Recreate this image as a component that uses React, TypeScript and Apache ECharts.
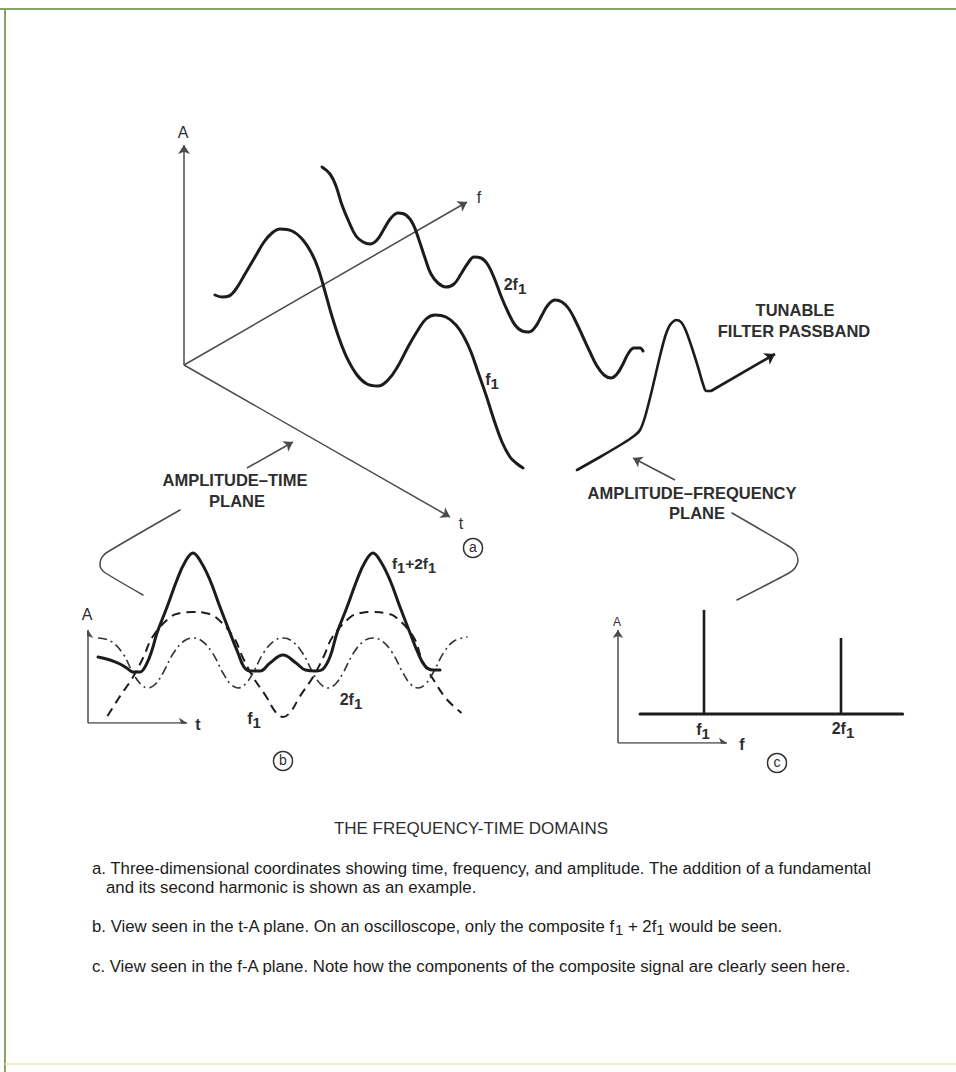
import React, { useEffect, useRef } from "react";
import * as echarts from "echarts";

// ---------- Panel (a): three-dimensional view (values in drawing units of the sketch plane) ----------
const axisAmplitudeA = [[184, 365], [184, 145]];
const axisFrequencyA = [[184, 365], [467, 202]];
const axisTimeA = [[184, 365], [450, 517]];

const curveF1A = [
  [215, 295], [222, 297], [229, 296], [236, 289], [245, 274], [255, 257], [264, 242], [272, 233],
  [280, 229], [292, 231], [303, 240], [312, 254], [318, 268], [324, 288], [331, 313], [339, 338],
  [347, 358], [357, 375], [367, 384], [378, 386], [388, 380], [398, 366], [408, 347], [418, 330],
  [426, 319], [435, 315], [446, 317], [456, 325], [464, 337], [471, 352], [478, 372], [486, 395],
  [494, 420], [502, 442], [510, 457], [516, 463], [523, 468],
];

const curve2F1A = [
  [322, 167], [330, 174], [336, 186], [342, 205], [349, 222], [356, 236], [363, 242], [370, 244],
  [377, 240], [384, 229], [391, 218], [398, 213], [406, 215], [413, 224], [419, 240], [425, 258],
  [431, 274], [438, 283], [446, 287], [454, 284], [461, 274], [468, 263], [474, 257], [481, 258],
  [488, 265], [495, 280], [501, 296], [508, 312], [515, 325], [522, 331], [529, 332], [536, 326],
  [542, 315], [548, 305], [555, 300], [562, 302], [569, 309], [576, 322], [583, 337], [590, 352],
  [597, 366], [604, 375], [611, 378], [617, 374], [623, 364], [628, 354], [634, 348], [640, 348],
  [643, 351],
];

const passbandA = [
  [577, 470], [600, 457], [622, 444], [634, 436], [640, 430], [645, 417], [652, 390], [659, 360],
  [665, 337], [670, 325], [676, 320], [681, 322], [686, 331], [692, 348], [698, 367], [703, 384],
  [706, 391], [711, 391],
];
const passbandTailA = [[711, 391], [775, 354]];

const pointerTimePlane = [[247, 468], [293, 442]];
const pointerFreqPlane = [[675, 480], [633, 458]];
const bracketTimePlane = [[180, 510], [106, 553], [101, 559], [100, 566], [104, 572], [143, 595]];
const bracketFreqPlane = [[732, 513], [790, 547], [796, 553], [798, 561], [795, 568], [789, 573], [737, 600]];

// ---------- Panel (b): t-A plane (t in twelfths of the f1 period, A in arbitrary units) ----------
const compositeB = [
  [-0.33, 3.3], [0.47, 3.15], [1.13, 2.95], [1.67, 2.7], [2.0, 2.55], [2.47, 2.55], [2.87, 2.9],
  [3.27, 3.65], [3.6, 4.5], [4.27, 5.8], [4.93, 7.15], [5.47, 8.05], [6.0, 8.5], [6.53, 8.05],
  [7.13, 7.15], [7.8, 5.8], [8.47, 4.5], [9.0, 3.5], [9.4, 2.8], [9.8, 2.6], [10.47, 2.6],
  [11.13, 3.0], [12.0, 3.4], [12.87, 3.0], [13.5, 2.65], [14.2, 2.6], [14.67, 2.7], [15.13, 3.3],
  [15.6, 4.5], [16.27, 5.8], [16.93, 7.15], [17.47, 8.05], [18.0, 8.5], [18.53, 8.05], [19.13, 7.15],
  [19.8, 5.8], [20.47, 4.5], [21.0, 3.5], [21.47, 2.85], [22.0, 2.65], [22.47, 2.65],
];
const fundamentalB = [
  [0.3, 0.35], [1.1, 1.3], [2.0, 2.3], [2.7, 3.3], [3.3, 4.3], [4.5, 5.3], [5.2, 5.5], [6.0, 5.55],
  [6.8, 5.5], [7.5, 5.3], [8.7, 4.3], [9.3, 3.3], [10.0, 2.3], [10.9, 1.3], [11.5, 0.55], [12.0, 0.3],
  [12.5, 0.55], [13.1, 1.3], [14.0, 2.3], [14.7, 3.3], [15.3, 4.3], [16.5, 5.3], [17.2, 5.5],
  [18.0, 5.55], [18.8, 5.5], [19.5, 5.3], [20.7, 4.3], [21.3, 3.1], [22.0, 2.2], [22.9, 1.2], [23.9, 0.5],
];
const harmonicB = [
  [-0.33, 4.25], [0.5, 4.1], [1.3, 3.5], [2.0, 2.5], [2.5, 1.95], [3.0, 1.75], [3.5, 1.95], [4.0, 2.5],
  [4.7, 3.5], [5.4, 4.1], [6.0, 4.25], [6.6, 4.1], [7.3, 3.5], [8.0, 2.5], [8.5, 1.95], [9.0, 1.75],
  [9.5, 1.95], [10.0, 2.5], [10.7, 3.5], [11.4, 4.1], [12.0, 4.25], [12.6, 4.1], [13.3, 3.5],
  [14.0, 2.5], [14.5, 1.95], [15.0, 1.75], [15.5, 1.95], [16.0, 2.5], [16.7, 3.5], [17.4, 4.1],
  [18.0, 4.25], [18.6, 4.1], [19.3, 3.5], [20.0, 2.5], [20.5, 1.95], [21.0, 1.75], [21.5, 1.95],
  [22.0, 2.5], [22.7, 3.5], [23.4, 4.1], [24.3, 4.3],
];
const axisAmplitudeB = [[-1, 0], [-1, 4.65]];
const axisTimeB = [[-1, 0], [5.6, 0]];

// ---------- Panel (c): f-A plane ----------
const spectrumFreq = [1, 2];
const spectrumAmp = [3.59, 2.62];
const baselineC = [[0.533, 0], [2.45, 0]];
const axisAmplitudeC = [[0.372, -1], [0.372, 2.9]];
const axisFrequencyC = [[0.372, -1], [1.168, -1]];

// ---------- Texts ----------
const titleText = "THE FREQUENCY-TIME DOMAINS";
const captionA1 = "a. Three-dimensional coordinates showing time, frequency, and amplitude. The addition of a fundamental";
const captionA2 = "and its second harmonic is shown as an example.";
const captionB = "b. View seen in the t-A plane. On an oscilloscope, only the composite f{sub|1} + 2f{sub|1} would be seen.";
const captionC = "c. View seen in the f-A plane. Note how the components of the composite signal are clearly seen here.";

const INK = "#1c1c1c";
const GREY = "#4a4a4a";
const TEXT = "#2e2e2e";
const FONT = "'Liberation Sans', Arial, Helvetica, sans-serif";
const CAPTION_SIZE = 16.8;

function curve(data: number[][], gi: number, width: number, extra: any = {}) {
  return {
    type: "line",
    xAxisIndex: gi,
    yAxisIndex: gi,
    data,
    showSymbol: false,
    symbol: "none",
    smooth: 0.4,
    clip: false,
    silent: true,
    lineStyle: { color: INK, width, cap: "round", join: "round", ...extra },
    z: 3,
  };
}

function arrows(list: number[][][], gi: number, width: number, color: string, size = 9) {
  return {
    type: "lines",
    coordinateSystem: "cartesian2d",
    xAxisIndex: gi,
    yAxisIndex: gi,
    data: list.map((c) => ({ coords: c })),
    symbol: ["none", "arrow"],
    symbolSize: size,
    silent: true,
    lineStyle: { color, width, opacity: 1, curveness: 0 },
    z: 2,
  };
}

function label(x: number, y: number, text: string, size: number, extra: any = {}) {
  const weight = extra.fontWeight || "normal";
  return {
    type: "text",
    x,
    y,
    silent: true,
    style: {
      text,
      fill: TEXT,
      fontFamily: FONT,
      fontSize: size,
      align: "center",
      verticalAlign: "middle",
      rich: {
        sub: {
          fontSize: size - 1,
          fontFamily: FONT,
          fontWeight: weight,
          fill: TEXT,
          padding: [Math.round(size * 0.55), 0, 0, 0],
        },
      },
      ...extra,
    },
  };
}

function caption(x: number, y: number, text: string) {
  return {
    type: "text",
    x,
    y,
    silent: true,
    style: {
      text,
      fill: INK,
      fontFamily: FONT,
      fontSize: CAPTION_SIZE,
      align: "left",
      verticalAlign: "middle",
      rich: {
        sub: { fontSize: CAPTION_SIZE - 2, fontFamily: FONT, fill: INK, padding: [8, 0, 0, 0] },
      },
    },
  };
}

function circled(x: number, y: number, ch: string) {
  return [
    { type: "circle", shape: { cx: x, cy: y, r: 9.5 }, silent: true, style: { fill: "none", stroke: "#333", lineWidth: 1.5 } },
    label(x, y - 1, ch, 14),
  ];
}

const BOLD = { fontWeight: "bold" };

const option: any = {
  animation: false,
  backgroundColor: "#ffffff",
  grid: [
    { left: 0, top: 0, width: 956, height: 1072 },
    { left: 88, top: 543, width: 390, height: 180 },
    { left: 567, top: 598, width: 342.5, height: 145 },
  ],
  xAxis: [
    { gridIndex: 0, type: "value", min: 0, max: 956, show: false },
    { gridIndex: 1, type: "value", min: -1, max: 25, show: false },
    { gridIndex: 2, type: "value", min: 0, max: 2.5, show: false },
  ],
  yAxis: [
    { gridIndex: 0, type: "value", min: 0, max: 1072, inverse: true, show: false },
    { gridIndex: 1, type: "value", min: 0, max: 9, show: false },
    { gridIndex: 2, type: "value", min: -1, max: 4, show: false },
  ],
  series: [
    // panel a
    arrows([axisAmplitudeA, axisFrequencyA, axisTimeA], 0, 1.5, GREY, 9),
    curve(curveF1A, 0, 3),
    curve(curve2F1A, 0, 3),
    { ...curve(passbandA, 0, 2.6), smooth: 0.25 },
    arrows([passbandTailA], 0, 2.6, INK, 10),
    arrows([pointerTimePlane, pointerFreqPlane], 0, 1.5, GREY, 9),
    { ...curve(bracketTimePlane, 0, 1.5, { color: GREY }), smooth: 0.2 },
    { ...curve(bracketFreqPlane, 0, 1.5, { color: GREY }), smooth: 0.2 },
    // panel b
    arrows([axisAmplitudeB, axisTimeB], 1, 1.5, GREY, 8),
    curve(fundamentalB, 1, 2, { type: [9, 6], cap: "butt" }),
    curve(harmonicB, 1, 1.6, { type: [9, 4, 2, 4], cap: "butt", color: "#333" }),
    curve(compositeB, 1, 3),
    // panel c
    arrows([axisAmplitudeC, axisFrequencyC], 2, 1.5, GREY, 8),
    { ...curve(baselineC, 2, 3), smooth: false },
    {
      type: "bar",
      xAxisIndex: 2,
      yAxisIndex: 2,
      data: spectrumFreq.map((f, i) => [f, spectrumAmp[i]]),
      barWidth: 2.6,
      silent: true,
      itemStyle: { color: INK },
      z: 3,
    },
  ],
  graphic: [
    // frame
    { type: "line", shape: { x1: 0, y1: 9, x2: 956, y2: 9 }, silent: true, style: { stroke: "#86a467", lineWidth: 2 } },
    { type: "line", shape: { x1: 5, y1: 9, x2: 5, y2: 1072 }, silent: true, style: { stroke: "#86a467", lineWidth: 2 } },
    { type: "line", shape: { x1: 5, y1: 1064, x2: 956, y2: 1064 }, silent: true, style: { stroke: "#f0ecc8", lineWidth: 2 } },
    // panel a labels
    label(183, 132, "A", 16),
    label(479, 197, "f", 16),
    label(461, 523, "t", 16),
    label(515, 284, "2f{sub|1}", 16, BOLD),
    label(492, 379, "f{sub|1}", 16, BOLD),
    label(795, 310, "TUNABLE", 16.5, BOLD),
    label(794, 331, "FILTER PASSBAND", 16.5, BOLD),
    label(235, 480, "AMPLITUDE\u2013TIME", 16.5, BOLD),
    label(237, 501, "PLANE", 16.5, BOLD),
    label(692, 493, "AMPLITUDE\u2013FREQUENCY", 16.5, BOLD),
    label(697, 513, "PLANE", 16.5, BOLD),
    ...circled(473, 548, "a"),
    // panel b labels
    label(87, 614, "A", 16),
    label(198, 724, "t", 16, BOLD),
    label(414, 563, "f{sub|1}+2f{sub|1}", 15.5, BOLD),
    label(351, 699, "2f{sub|1}", 16, BOLD),
    label(254, 718, "f{sub|1}", 16, BOLD),
    ...circled(283, 761, "b"),
    // panel c labels
    label(617, 622, "A", 12),
    label(742, 744, "f", 16, BOLD),
    label(703, 729, "f{sub|1}", 16, BOLD),
    label(843, 728, "2f{sub|1}", 16, BOLD),
    ...circled(777, 763, "c"),
    // caption
    label(471, 828, titleText, 17),
    caption(92, 868, captionA1),
    caption(106, 887, captionA2),
    caption(92, 926, captionB),
    caption(92, 966, captionC),
  ],
};

export default function App() {
  const ref = useRef<HTMLDivElement>(null);
  useEffect(() => {
    if (!ref.current) return;
    const chart = echarts.init(ref.current, null, { renderer: "svg" });
    chart.setOption(option);
    return () => chart.dispose();
  }, []);
  return (
    <div
      ref={ref}
      style={{ position: "absolute", left: 0, top: 0, width: 956, height: 1072, background: "#ffffff" }}
    />
  );
}
